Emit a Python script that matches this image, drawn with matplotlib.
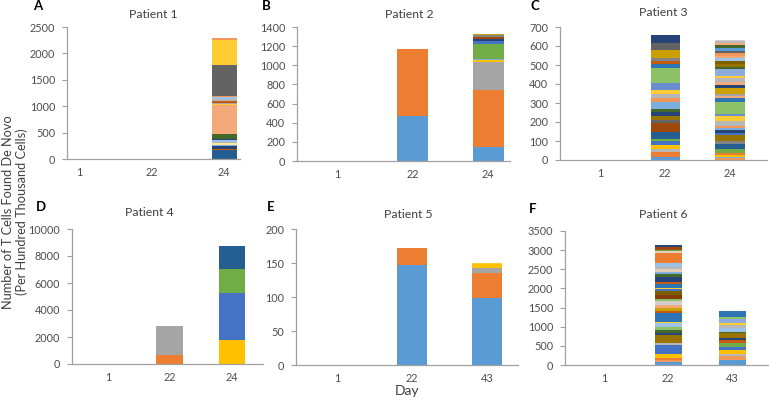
import matplotlib
matplotlib.use("Agg")
import matplotlib.pyplot as plt

plt.rcParams['font.family'] = ['Lato', 'DejaVu Sans']

# ---------------- palette (Excel-like) ----------------
BLUE = '#5B9BD5'; ORANGE = '#ED7D31'; GRAY = '#A5A5A5'; GOLD = '#FFC000'
BLUE2 = '#4472C4'; GREEN = '#70AD47'; DBLUE = '#255E91'; BROWN = '#9E480E'
DGRAY = '#636363'; OLIVE = '#997300'; NAVY = '#264478'; DGREEN = '#43682B'
LBLUE = '#7CAFDD'; LORANGE = '#F1975A'; LGRAY = '#B7B7B7'; LGOLD = '#FFCD33'
LBLUE2 = '#698ED0'; LGREEN = '#8CC168'; MBLUE = '#2E75B6'; DORANGE = '#C55A11'
MGRAY = '#848484'; DGOLD = '#C9A000'; SALMON = '#F4A97A'; PALE = '#E2CDBA'
PBLUE = '#9DC3E6'; DBROWN = '#843C0C'; DOLIVE = '#7F6000'; PGRAY = '#D0CECE'

# ---------------- data ----------------
p1_days = ['1', '22', '24']
p1_d1 = []
p1_d22 = []
p1_d24 = [173, 19, 45, 32, 25, 26, 32, 19, 109, 544, 19, 26, 38, 32, 32, 26, 576, 486, 24]
p1_d24_c = [DBLUE, DORANGE, NAVY, LBLUE, '#FFE699', LGRAY, PBLUE, NAVY, DGREEN, SALMON,
            LGOLD, GRAY, DORANGE, LGRAY, PBLUE, LORANGE, DGRAY, LGOLD, LORANGE]

p2_days = ['1', '22', '24']
p2_d1 = []
p2_d22 = [470, 705]
p2_d22_c = [BLUE, ORANGE]
p2_d24 = [150, 590, 290, 25, 10, 160, 30, 15, 30, 15, 5, 10]
p2_d24_c = [BLUE, ORANGE, GRAY, GOLD, LBLUE, GREEN, BLUE2, NAVY, BROWN, MGRAY, DGRAY, DGOLD]

p3_days = ['1', '22', '24']
p3_d1 = []
p3_d22 = [17, 23, 16, 21, 21, 14, 38, 44, 17, 18, 23, 17, 38, 18, 23, 20, 39, 75, 23, 17, 17, 39, 38, 41]
p3_d22_c = [BLUE, ORANGE, LGRAY, GOLD, BLUE2, GREEN, DBLUE, BROWN, DGRAY, OLIVE, NAVY, DGREEN,
            LBLUE, LORANGE, LGRAY, LGOLD, LBLUE2, LGREEN, MBLUE, DORANGE, MGRAY, DGOLD, DGRAY, NAVY]
p3_d24 = [8, 7, 10, 10, 25, 25, 15, 30, 10, 20, 10, 10, 25, 25, 10, 65, 20, 10, 10, 35, 15,
          15, 20, 10, 40, 10, 15, 15, 15, 15, 15, 10, 15, 15, 10, 10, 7]
p3_d24_c = [LORANGE, LBLUE, GOLD, ORANGE, GREEN, DBLUE, MGRAY, OLIVE, BLUE2, NAVY, LBLUE, LORANGE,
            LGRAY, LGOLD, LBLUE2, LGREEN, MBLUE, SALMON, GRAY, DGOLD, NAVY, SALMON, LGRAY, LGOLD,
            '#8FAADC', DGREEN, OLIVE, DOLIVE, PBLUE, SALMON, LORANGE, DGRAY, BLUE, DGREEN, SALMON,
            LGRAY, PGRAY]

p4_days = ['1', '22', '24']
p4_d1 = []
p4_d22 = [650, 2200]
p4_d22_c = [ORANGE, GRAY]
p4_d24 = [1750, 3500, 1800, 1700]
p4_d24_c = [GOLD, BLUE2, GREEN, DBLUE]

p5_days = ['1', '22', '43']
p5_d1 = []
p5_d22 = [147, 25]
p5_d22_c = [BLUE, ORANGE]
p5_d43 = [98, 38, 6, 6, 2]
p5_d43_c = [BLUE, ORANGE, GRAY, GOLD, LGOLD]

p6_days = ['1', '22', '43']
p6_d1 = []
p6_d22 = [80, 50, 60, 100, 235, 60, 195, 60, 70, 90, 90, 40, 220, 70, 60, 90, 90, 60, 110, 90,
          60, 40, 90, 70, 130, 60, 70, 60, 70, 100, 245, 55, 45, 65, 60]
p6_d22_c = [BLUE, LORANGE, ORANGE, GOLD, BLUE2, LGRAY, OLIVE, NAVY, DGREEN, LGREEN, PBLUE, LGOLD,
            MBLUE, DORANGE, DGOLD, SALMON, PGRAY, LGREEN, DBROWN, DOLIVE, BLUE2, LGOLD, MBLUE,
            DORANGE, NAVY, DGREEN, LBLUE, PALE, LGRAY, PBLUE, ORANGE, PALE, GREEN, BROWN, NAVY]
p6_d43 = [140, 85, 60, 105, 70, 105, 75, 75, 115, 40, 105, 70, 65, 85, 70, 155]
p6_d43_c = [BLUE, LORANGE, LGRAY, GOLD, BLUE2, GREEN, DORANGE, NAVY, OLIVE, DGREEN, PBLUE,
            LGRAY, LGOLD, '#8FAADC', LGREEN, MBLUE]

W, H = 769, 404
fig = plt.figure(figsize=(W / 100, H / 100), dpi=100)

TXT = '#4D4D4D'
AX = '#A0A0A0'


def px_axes(left, right, top, bottom):
    return fig.add_axes([left / W, 1 - bottom / H, (right - left) / W, (bottom - top) / H])


def stack(ax, x, vals, cols, width):
    b = 0
    for v, c in zip(vals, cols):
        ax.bar(x, v, width=width, bottom=b, color=c, linewidth=0)
        b += v


def panel(box, xlim, ylim, ystep, width, days, bars):
    ax = px_axes(*box)
    for i, (vals, cols) in enumerate(bars):
        if vals:
            stack(ax, i, vals, cols, width)
    ax.set_xlim(*xlim)
    ax.set_ylim(0, ylim)
    ax.set_yticks(range(0, ylim + 1, ystep))
    ax.set_xticks(range(len(days)))
    ax.set_xticklabels(days)
    for s in ['top', 'right']:
        ax.spines[s].set_visible(False)
    ax.spines['left'].set_color(AX)
    ax.spines['bottom'].set_color(AX)
    ax.spines['left'].set_linewidth(0.9)
    ax.spines['bottom'].set_linewidth(0.9)
    ax.tick_params(axis='x', length=0, pad=6, labelsize=7.8, labelcolor=TXT)
    ax.tick_params(axis='y', length=3.5, width=0.8, color=AX, pad=5, labelsize=7.8, labelcolor=TXT)
    ax.patch.set_alpha(0)
    return ax


panel((67, 240, 27, 159), (-0.166, 2.22), 2500, 500, 0.345, p1_days,
      [(p1_d1, []), (p1_d22, []), (p1_d24, p1_d24_c)])
panel((297, 510, 27, 161), (-0.53, 2.29), 1400, 200, 0.41, p2_days,
      [(p2_d1, []), (p2_d22, p2_d22_c), (p2_d24, p2_d24_c)])
panel((560, 767, 27, 160), (-0.62, 2.57), 700, 100, 0.45, p3_days,
      [(p3_d1, []), (p3_d22, p3_d22_c), (p3_d24, p3_d24_c)])
panel((72, 263, 229, 364), (-0.58, 2.5), 10000, 2000, 0.435, p4_days,
      [(p4_d1, []), (p4_d22, p4_d22_c), (p4_d24, p4_d24_c)])
panel((296, 518, 229, 365), (-0.55, 2.41), 200, 50, 0.40, p5_days,
      [(p5_d1, []), (p5_d22, p5_d22_c), (p5_d43, p5_d43_c)])
panel((565, 768, 231, 365), (-0.61, 2.56), 3500, 500, 0.42, p6_days,
      [(p6_d1, []), (p6_d22, p6_d22_c), (p6_d43, p6_d43_c)])

# titles
titles = [('Patient 1', 153, 15), ('Patient 2', 409, 14), ('Patient 3', 663, 12),
          ('Patient 4', 149, 212), ('Patient 5', 408, 215), ('Patient 6', 663, 215)]
for t, x, y in titles:
    fig.text(x / W, 1 - y / H, t, ha='center', va='center', fontsize=8.8, color='#404040')

letters = [('A', 38, 6), ('B', 266, 6), ('C', 535, 6), ('D', 41, 207), ('E', 271, 207), ('F', 533, 209)]
for t, x, y in letters:
    fig.text(x / W, 1 - y / H, t, ha='center', va='center', fontsize=9.5, fontweight='bold', color='black')

fig.text(15 / W, 1 - 212 / H, 'Number of T Cells Found De Novo\n(Per Hundred Thousand Cells)',
         rotation=90, ha='center', va='center', fontsize=9.2, color='#404040', linespacing=1.15)
fig.text(407 / W, 1 - 391 / H, 'Day', ha='center', va='center', fontsize=10, color='#404040')

fig.savefig('out.png', dpi=100)
